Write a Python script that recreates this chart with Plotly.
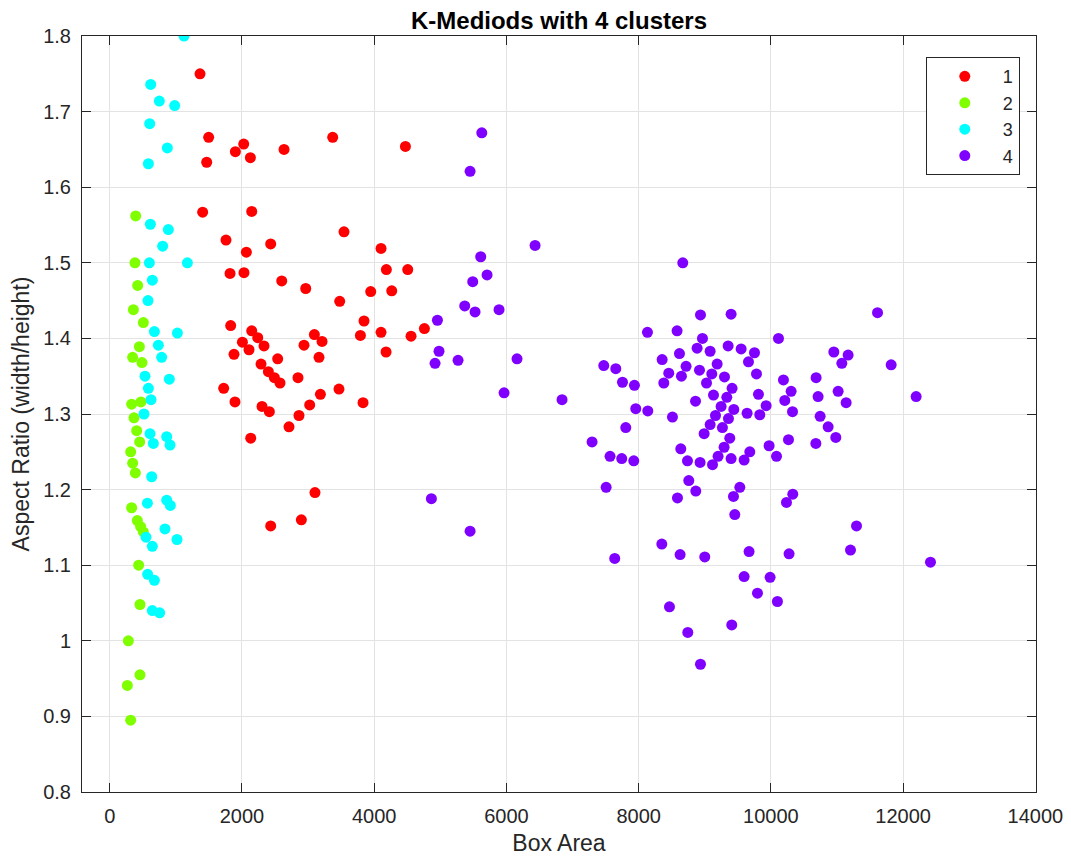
import plotly.graph_objects as go

# Cluster 1 (red)
c1_x = [1365, 1496, 2026, 1900, 2127, 2636, 1466, 3372, 4472, 1405, 2147, 3543, 1758, 2434, 2066,
        4103, 1819, 2030, 4184, 4507, 2601, 2964, 3947, 4265, 3478, 1829, 2147, 2238, 2006, 2106,
        2333, 1879, 2540, 2288, 2399, 2490, 2575, 2847, 2938, 3095, 3211, 3165, 3791, 3846, 4103,
        4179, 4557, 4759, 1723, 1894, 2303, 2414, 3467, 3186, 3024, 2862, 2711, 3831, 2132, 3104,
        2898, 2434]
c1_y = [1.750, 1.666, 1.657, 1.647, 1.639, 1.650, 1.633, 1.666, 1.654, 1.567, 1.568, 1.541, 1.530, 1.525, 1.514,
        1.519, 1.486, 1.487, 1.491, 1.491, 1.476, 1.466, 1.462, 1.463, 1.449, 1.417, 1.410, 1.401, 1.395, 1.385,
        1.390, 1.379, 1.373, 1.366, 1.356, 1.348, 1.341, 1.348, 1.391, 1.405, 1.396, 1.375, 1.404, 1.423, 1.408,
        1.382, 1.403, 1.413, 1.334, 1.316, 1.310, 1.303, 1.333, 1.326, 1.312, 1.298, 1.283, 1.315, 1.268, 1.196,
        1.160, 1.152]

# Cluster 2 (green)
c2_x = [392, 381, 422, 357, 508, 448, 346, 487, 331, 472, 366, 407, 452, 316, 346, 387, 331, 417, 467,
        508, 437, 457, 281, 457, 266, 316]
c2_y = [1.562, 1.500, 1.470, 1.438, 1.421, 1.389, 1.375, 1.368, 1.313, 1.316, 1.295, 1.278, 1.263, 1.250,
        1.235, 1.222, 1.176, 1.159, 1.151, 1.144, 1.100, 1.048, 1.000, 0.955, 0.941, 0.895]

# Cluster 3 (cyan)
c3_x = [1123, 619, 750, 982, 604, 871, 584, 614, 886, 800, 599, 1174, 644, 578, 675, 1023, 735, 785,
        533, 901, 584, 624, 518, 609, 659, 861, 911, 634, 569, 861, 916, 548, 835, 1017, 644, 573, 675,
        644, 755]
c3_y = [1.800, 1.736, 1.714, 1.708, 1.684, 1.652, 1.631, 1.551, 1.544, 1.522, 1.500, 1.500, 1.477, 1.450,
        1.409, 1.407, 1.391, 1.375, 1.350, 1.346, 1.334, 1.319, 1.300, 1.274, 1.261, 1.270, 1.259, 1.217,
        1.182, 1.186, 1.179, 1.137, 1.148, 1.134, 1.125, 1.088, 1.080, 1.040, 1.037]

# Cluster 4 (purple)
c4_x = [5627, 5450, 6433, 5611, 5707, 5490, 5369, 5525, 5888, 4956, 4980, 4920, 5268, 6160, 5964, 6841,
        4865, 5450,
        8667, 8133, 8581, 7472, 7654, 7755, 7936, 7956, 8138, 7295, 7805, 7567, 7744, 7926, 7508, 8350,
        8355, 8617, 8717, 8455, 8647, 8380, 8511, 8637, 8738, 8758, 8587,
        8935, 9398, 8965, 10115, 8884, 9081, 9353, 9550, 9752, 9661, 8920, 9187, 9106, 9026, 9298, 9782,
        9413, 9132, 9333, 9812, 8860, 9247, 9439, 9640, 9928, 9832, 9162, 9358, 9081, 9267, 8990, 9378,
        9292, 9201, 9398, 9681, 9595, 9117, 8929, 9973, 10085, 10266, 8864, 9530, 9434, 9454, 10331,
        10236, 8627, 9000, 9670, 10275, 7638, 9595, 9988, 9797, 10099, 8466, 9408, 8743, 8935,
        11613, 10952, 11168, 11073, 11819, 10190, 10684, 10306, 10210, 10714, 11017, 11138, 12197,
        10327, 10745, 10866, 10982, 10680, 11295, 11204, 12414]
c4_y = [1.672, 1.621, 1.523, 1.508, 1.484, 1.475, 1.443, 1.435, 1.438, 1.424, 1.383, 1.367, 1.371, 1.373,
        1.328, 1.319, 1.188, 1.145,
        1.500, 1.408, 1.410, 1.364, 1.360, 1.342, 1.338, 1.307, 1.304, 1.263, 1.282, 1.244, 1.241, 1.238,
        1.203, 1.128, 1.372, 1.380, 1.363, 1.354, 1.350, 1.341, 1.296, 1.254, 1.238, 1.212, 1.189,
        1.431, 1.432, 1.400, 1.400, 1.387, 1.383, 1.390, 1.386, 1.381, 1.369, 1.358, 1.366, 1.353, 1.341,
        1.349, 1.353, 1.334, 1.325, 1.322, 1.326, 1.317, 1.310, 1.306, 1.301, 1.311, 1.299, 1.298, 1.294,
        1.286, 1.282, 1.274, 1.268, 1.256, 1.244, 1.241, 1.250, 1.239, 1.233, 1.236, 1.258, 1.244, 1.266,
        1.198, 1.203, 1.191, 1.167, 1.194, 1.183, 1.114, 1.111, 1.118, 1.115, 1.109, 1.085, 1.084, 1.063,
        1.052, 1.045, 1.021, 1.011, 0.969,
        1.434, 1.382, 1.378, 1.367, 1.365, 1.345, 1.348, 1.330, 1.318, 1.323, 1.330, 1.315, 1.323,
        1.303, 1.297, 1.283, 1.269, 1.261, 1.152, 1.120, 1.104]

names = ["1", "2", "3", "4"]
colors = ["#FF0000", "#80FF00", "#00FFFF", "#8000FF"]
xs = [c1_x, c2_x, c3_x, c4_x]
ys = [c1_y, c2_y, c3_y, c4_y]

x_ticks = [0, 2000, 4000, 6000, 8000, 10000, 12000, 14000]
x_labels = ["0", "2000", "4000", "6000", "8000", "10000", "12000", "14000"]
y_ticks = [0.8, 0.9, 1.0, 1.1, 1.2, 1.3, 1.4, 1.5, 1.6, 1.7, 1.8]
y_labels = ["0.8", "0.9", "1", "1.1", "1.2", "1.3", "1.4", "1.5", "1.6", "1.7", "1.8"]

fig = go.Figure()
for n, c, x, y in zip(names, colors, xs, ys):
    fig.add_trace(go.Scatter(x=x, y=y, mode="markers", name=n,
                             marker=dict(color=c, size=11, line=dict(width=0))))

font_family = "Liberation Sans, Arial, sans-serif"
axis_common = dict(
    showline=True, linecolor="#262626", linewidth=1, mirror="allticks",
    ticks="inside", ticklen=9, tickwidth=1, tickcolor="#262626",
    showgrid=True, gridcolor="#E3E3E3", gridwidth=1, zeroline=False,
    automargin=False,
    tickfont=dict(family=font_family, size=20, color="#262626"),
)

# the page body adds an 8px offset, so the figure is sized to land the axes
# at the same window position as the reference
fig.update_layout(
    width=1063, height=848,
    paper_bgcolor="white", plot_bgcolor="white",
    margin=dict(l=74, r=35, t=28, b=64),
    title=dict(text="<b>K-Mediods with 4 clusters</b>", x=0.5, xref="paper", xanchor="center",
               y=0.985, yref="container", yanchor="middle",
               font=dict(family=font_family, size=24, color="black")),
    xaxis=dict(range=[-420, 14010], tickvals=x_ticks, ticktext=x_labels,
               ticklabelstandoff=6,
               title=dict(text="Box Area", font=dict(family=font_family, size=23, color="#262626"),
                          standoff=14),
               **axis_common),
    yaxis=dict(range=[0.8, 1.8], tickvals=y_ticks, ticktext=y_labels,
               ticklabelstandoff=6,
               title=dict(text="Aspect Ratio (width/height)",
                          font=dict(family=font_family, size=23, color="#262626"), standoff=8),
               **axis_common),
    legend=dict(x=0.983, xanchor="right", y=0.972, yanchor="top",
                bordercolor="#262626", borderwidth=1, bgcolor="white",
                font=dict(family=font_family, size=18, color="#262626"),
                itemwidth=66, tracegroupgap=0),
    showlegend=True,
)

fig.write_html("out.html")
